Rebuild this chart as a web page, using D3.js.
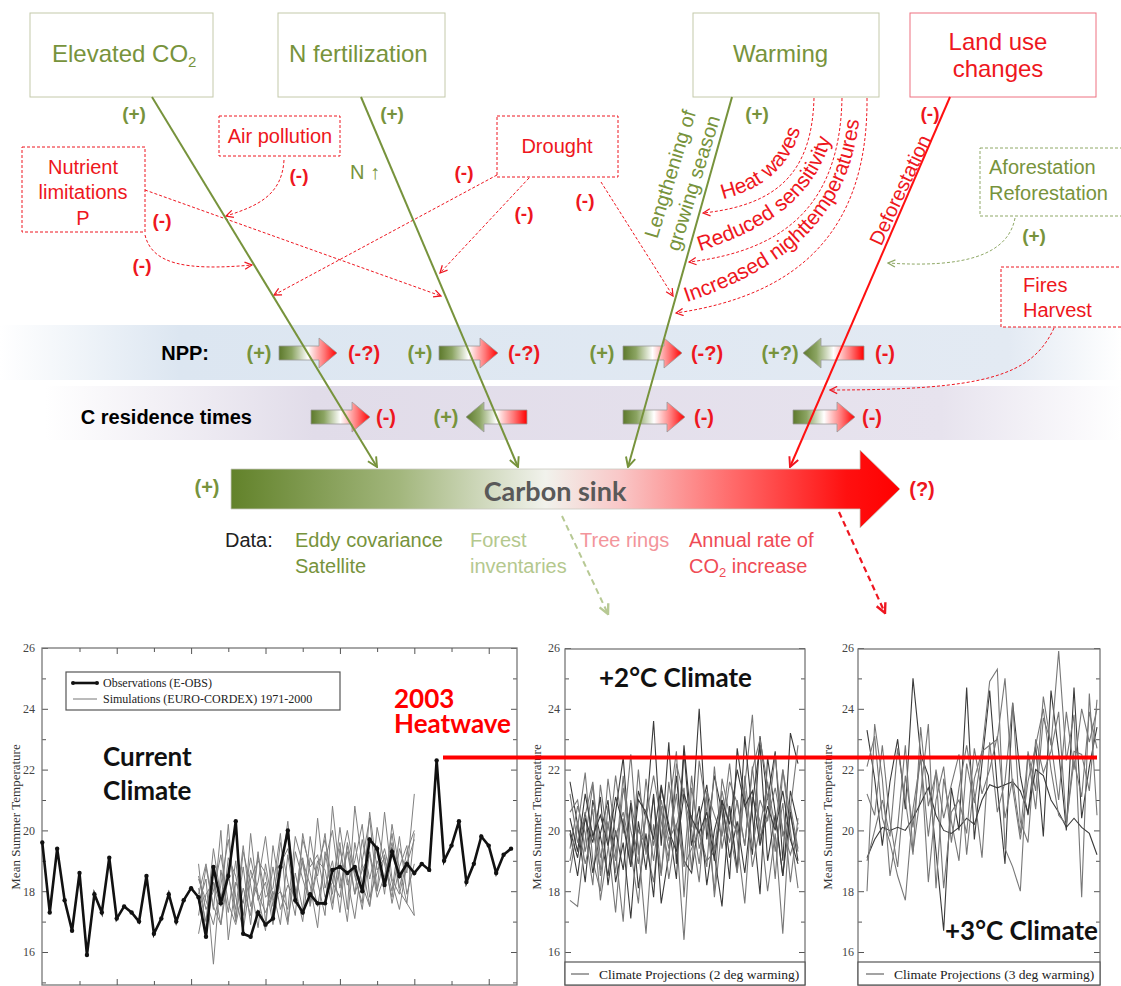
<!DOCTYPE html>
<html>
<head>
<meta charset="utf-8">
<script src="https://cdn.jsdelivr.net/npm/d3@7"></script>
<style>
  body { margin: 0; background: #fff; }
  svg { display: block; }
</style>
</head>
<body>
<svg id="fig" width="1121" height="986" font-family="'Liberation Sans', Arial, sans-serif"></svg>
<script>
// ---------- chart values ----------
const obsStartYear = 1950;
const obsTemp = [19.6,17.3,19.4,17.7,16.7,18.6,15.9,17.9,17.3,19.1,
  17.1,17.5,17.3,17.0,18.5,16.6,17.1,17.9,17.0,17.7,
  18.1,17.8,16.5,18.8,17.6,18.5,20.3,16.6,16.5,17.3,
  16.9,17.1,18.8,20.0,17.7,17.3,17.9,17.6,17.6,18.7,
  18.8,18.6,18.8,18.0,19.7,19.4,18.2,19.3,18.5,18.9,
  18.6,18.9,18.7,22.3,19.0,19.5,20.3,18.3,18.9,19.8,
  19.5,18.6,19.2,19.4];

const simStartYear = 1971;
const simTemp = [
  [18.9,16.6,18.3,17.5,20.2,17.1,18.8,16.9,19.2,17.8,18.1,19.9,17.0,18.6,17.4,19.8,18.3,17.2,20.8,18.5,17.0,19.6,18.2,17.5,20.1,18.9,17.8,19.4,18.6,21.2],
  [17.6,18.4,15.6,18.7,17.3,19.0,16.8,19.9,17.7,18.3,16.9,18.5,20.3,17.6,19.0,18.2,16.8,19.3,17.9,20.1,18.4,17.1,19.0,20.4,18.0,19.2,17.6,18.8,19.5,17.2],
  [16.6,17.9,18.3,16.9,19.1,18.5,17.2,18.7,17.8,16.7,19.5,18.0,17.4,19.8,18.9,17.6,20.4,18.1,19.0,17.3,19.6,18.5,17.6,20.6,18.7,19.1,18.0,19.8,17.9,18.9],
  [18.1,17.0,19.4,17.8,18.6,17.0,19.3,18.2,16.8,18.9,17.5,19.6,18.3,17.2,19.9,18.6,17.5,19.0,20.0,18.1,19.3,17.9,19.7,18.4,19.5,17.9,20.2,18.7,17.6,19.9],
  [17.2,18.8,17.4,20.0,16.4,18.3,17.6,19.1,17.9,17.3,18.0,16.9,19.2,17.6,19.7,18.8,19.2,17.8,18.3,19.6,17.4,20.8,18.9,17.5,19.0,18.3,19.9,18.1,19.3,20.0],
  [18.4,17.7,16.9,18.2,19.7,17.8,16.7,18.4,19.0,18.6,17.2,18.9,19.4,18.1,17.0,19.1,18.5,19.9,17.6,18.8,20.0,18.6,17.4,19.3,18.0,20.6,18.4,17.9,19.0,18.5],
  [17.9,18.9,17.5,16.9,18.5,17.4,19.5,17.5,18.3,19.8,17.7,18.0,16.9,19.3,18.4,17.6,19.0,18.7,17.4,19.4,18.2,19.0,20.2,17.8,18.6,19.4,18.3,17.4,18.9,19.7],
  [18.5,17.4,18.0,19.2,17.6,16.9,18.1,17.2,19.3,17.0,18.8,17.4,18.2,17.8,19.1,17.5,18.8,19.7,18.3,17.8,19.5,17.9,18.7,19.2,17.8,18.5,19.6,18.0,17.6,17.2]
];

const plus2Temp = [
  [21.6,20.2,18.3,21.0,19.8,18.5,20.6,22.4,19.1,21.3,20.4,23.6,19.5,22.9,18.9,22.8,20.1,24.0,19.7,21.8,20.6,18.4,22.7,20.9,19.2,23.1,21.0,22.6,19.0,23.2,22.2],
  [19.4,20.8,19.9,18.2,21.5,19.6,17.3,20.4,18.8,22.0,19.2,21.1,18.6,20.7,22.6,17.8,21.4,19.9,18.8,22.1,19.4,20.8,18.6,21.5,23.8,19.6,21.2,18.4,22.0,20.0,18.1],
  [18.6,20.1,21.9,19.0,18.0,20.8,19.3,17.0,21.0,19.5,16.6,20.2,18.5,21.6,19.8,16.4,20.5,18.9,21.2,17.8,20.1,22.2,19.7,17.6,21.1,20.3,18.0,19.9,16.6,20.8,19.4],
  [20.0,19.1,20.6,18.6,19.9,21.0,18.3,19.6,17.1,20.3,18.7,21.2,17.6,19.2,21.8,19.0,18.6,20.4,21.5,19.2,17.5,20.8,18.7,23.1,20.5,17.9,22.4,20.6,18.5,21.3,20.2],
  [17.7,17.5,19.7,21.5,18.5,20.2,19.0,21.8,18.9,20.0,19.5,18.3,20.7,19.4,21.2,18.8,19.4,20.0,19.0,19.3,20.8,19.6,21.0,19.5,22.1,19.8,20.4,21.4,20.0,19.2,20.1],
  [20.6,21.0,19.3,20.7,17.7,19.4,21.8,19.9,22.5,19.2,20.4,21.8,20.3,19.0,22.2,21.1,20.0,18.3,21.3,20.5,19.8,21.6,20.9,19.5,22.0,23.0,21.5,20.1,22.0,20.5,19.3],
  [19.9,18.5,20.4,19.6,21.1,18.2,20.0,18.7,20.9,18.1,19.9,17.8,21.4,20.2,18.4,22.6,19.5,20.8,18.2,20.0,21.0,19.1,20.3,18.6,20.9,22.8,19.0,20.5,18.5,20.6,19.0],
  [21.2,19.6,20.5,21.6,19.1,20.3,18.6,21.4,20.0,18.9,21.7,19.5,20.8,18.4,20.1,21.4,18.7,22.3,20.6,19.4,21.3,20.0,18.6,21.8,19.4,21.0,20.3,22.5,19.8,20.7,22.8],
  [19.0,20.3,18.9,20.0,18.7,21.7,19.8,20.6,19.3,17.6,20.7,19.0,21.0,19.7,20.2,18.9,21.8,19.4,20.4,18.0,21.7,20.5,19.9,21.3,18.8,20.1,21.6,19.3,20.9,18.3,20.4],
  [20.4,19.3,21.2,19.8,20.5,19.5,21.1,20.2,18.8,21.0,20.6,19.7,21.5,20.0,19.3,21.2,20.4,19.9,20.6,19.0,21.0,20.2,22.0,20.8,21.3,19.5,20.8,20.0,21.3,19.7,18.9]
];

const plus3Temp = [
  [23.3,21.7,19.5,21.6,23.0,20.7,25.0,22.5,21.8,19.3,16.7,21.4,20.0,24.7,19.7,22.2,24.6,21.4,18.9,24.2,21.8,20.5,22.8,19.8,24.6,22.6,20.0,24.7,20.4,22.1,23.4],
  [18.0,23.5,21.7,18.5,20.1,22.8,19.3,21.2,23.5,18.1,21.7,20.3,19.0,22.2,20.9,22.6,24.9,25.3,19.4,18.8,18.0,22.6,21.3,24.4,22.8,25.9,22.3,23.8,17.8,24.5,20.5],
  [21.2,20.5,22.8,20.3,18.8,21.8,20.1,22.5,18.3,21.0,22.1,19.6,21.4,22.8,21.2,19.1,22.9,20.6,21.6,24.2,20.3,19.6,23.0,21.9,22.6,23.9,20.2,22.3,21.1,23.9,22.7],
  [19.1,19.7,20.1,20.0,20.1,20.0,20.4,20.9,21.4,20.5,20.0,19.9,20.1,20.4,20.2,21.0,21.5,21.4,21.5,21.6,21.3,20.6,22.0,21.8,21.0,20.6,20.1,20.4,20.1,19.9,19.2],
  [22.1,23.1,20.4,19.6,18.5,17.7,20.7,22.4,19.8,22.0,20.4,21.5,22.5,19.2,21.7,22.6,22.8,23.0,25.0,21.4,19.7,21.6,22.8,24.0,22.0,20.5,20.2,22.6,22.5,21.3,24.3],
  [19.0,20.0,21.0,19.8,22.7,21.0,19.2,23.4,20.8,21.9,18.1,20.6,21.0,19.9,22.7,21.2,22.0,23.1,20.4,21.7,19.9,22.5,20.7,23.7,22.9,21.0,23.9,22.0,24.0,22.9,24.0]
];

const yTicksMajor = [16, 18, 20, 22, 24, 26];
const yTicksMinor = [15, 17, 19, 21, 23, 25];
const xTicksMajor = [1960, 1970, 1980, 1990, 2000, 2010];
const xTicksMinor = [1955, 1965, 1975, 1985, 1995, 2005];
const heatwaveLevel = 22.4;

// ---------- diagram text ----------
const nppLeft  = ["(+)", "(+)", "(+)", "(+?)"];
const nppRight = ["(-?)", "(-?)", "(-?)", "(-)"];
const resLeft  = ["", "(+)", "", ""];
const resRight = ["(-)", "", "(-)", "(-)"];

const GREEN = "#77933c", RED = "#ee1620", BOXLINE = "#c4c9aa";
const SERIF = "'Liberation Serif', 'Times New Roman', serif";
const CAL = "Lato, sans-serif";

const svg = d3.select("#fig");
svg.append("rect").attr("width", 1121).attr("height", 986).attr("fill", "#fff");
const defs = svg.append("defs");

function grad(id, stops, attrs) {
  const g = defs.append("linearGradient").attr("id", id);
  Object.entries(attrs || {}).forEach(([k, v]) => g.attr(k, v));
  stops.forEach(s => g.append("stop").attr("offset", s[0]).attr("stop-color", s[1])
    .attr("stop-opacity", s[2] == null ? 1 : s[2]));
}
grad("gNpp", [[0, "#dce6f1", 0], [0.16, "#dce6f1", 1], [0.9, "#e3eaf3", 1], [1, "#e3eaf3", 0]]);
grad("gRes", [[0.04, "#e1dce9", 0], [0.28, "#e1dce9", 1], [0.84, "#e7e3ee", 1], [1, "#e7e3ee", 0]]);
grad("gArrow", [[0, "#5d792c"], [0.22, "#8ba462"], [0.5, "#ffffff"], [0.78, "#ff7878"], [1, "#ff0000"]]);
grad("gSink", [[0, "#62822a"], [0.25, "#a2b67c"], [0.47, "#f1f2ec"], [0.58, "#f9c8c8"],
  [0.75, "#ff6a6a"], [0.92, "#ff1010"], [1, "#ff0000"]],
  {gradientUnits: "userSpaceOnUse", x1: 231, x2: 900, y1: 0, y2: 0});

function marker(id, color, size, sw) {
  defs.append("marker").attr("id", id).attr("viewBox", "0 0 10 10")
    .attr("refX", 9).attr("refY", 5).attr("markerWidth", size).attr("markerHeight", size)
    .attr("markerUnits", "userSpaceOnUse").attr("orient", "auto")
    .append("path").attr("d", "M1,1 L9,5 L1,9").attr("fill", "none")
    .attr("stroke", color).attr("stroke-width", sw);
}
marker("aG", GREEN, 12, 1.6);
marker("aR", RED, 12, 1.6);
marker("aRs", RED, 9, 1.4);
marker("aGs", "#8fa866", 9, 1.4);
marker("aRd", RED, 12, 2);
marker("aGd", "#b7c994", 12, 2);

function label(x, y, txt, opt) {
  opt = opt || {};
  const t = svg.append("text").attr("x", x).attr("y", y)
    .attr("text-anchor", opt.anchor || "middle")
    .attr("dominant-baseline", opt.base || "central")
    .attr("font-size", opt.size || 20)
    .attr("font-weight", opt.bold ? 700 : 400)
    .attr("fill", opt.color || "#000")
    .text(txt);
  if (opt.font) t.attr("font-family", opt.font);
  return t;
}

// ---------- bands ----------
svg.append("rect").attr("x", 0).attr("y", 325).attr("width", 1121).attr("height", 55).attr("fill", "url(#gNpp)");
svg.append("rect").attr("x", 0).attr("y", 386).attr("width", 1121).attr("height", 54).attr("fill", "url(#gRes)");

// ---------- driver boxes ----------
svg.append("rect").attr("x", 30).attr("y", 13).attr("width", 183).attr("height", 84).attr("fill", "#fff").attr("stroke", BOXLINE);
svg.append("rect").attr("x", 278).attr("y", 13).attr("width", 167).attr("height", 84).attr("fill", "#fff").attr("stroke", BOXLINE);
svg.append("rect").attr("x", 693).attr("y", 13).attr("width", 186).attr("height", 84).attr("fill", "#fff").attr("stroke", BOXLINE);
svg.append("rect").attr("x", 910).attr("y", 13).attr("width", 186).attr("height", 84).attr("fill", "#fff").attr("stroke", "#ee7080");

const co2 = svg.append("text").attr("x", 52).attr("y", 62).attr("font-size", 24).attr("fill", GREEN);
co2.append("tspan").text("Elevated CO");
co2.append("tspan").attr("font-size", 15).attr("dy", 5).text("2");
label(289, 62, "N fertilization", {anchor: "start", base: "auto", size: 24, color: GREEN});
label(733, 62, "Warming", {anchor: "start", base: "auto", size: 24, color: GREEN});
label(998, 50, "Land use", {base: "auto", size: 24, color: RED});
label(998, 77, "changes", {base: "auto", size: 24, color: RED});

// ---------- dashed modifier boxes ----------
function dashBox(x, y, w, h, c) {
  svg.append("rect").attr("x", x).attr("y", y).attr("width", w).attr("height", h)
    .attr("fill", "#fff").attr("stroke", c).attr("stroke-width", 1).attr("stroke-dasharray", "3,2");
}
dashBox(219, 116, 121, 40, RED);
dashBox(22, 147, 123, 85, RED);
dashBox(497, 116, 121, 61, RED);
dashBox(980, 148, 150, 68, "#8fa866");
dashBox(1001, 267, 130, 60, RED);

label(280, 136, "Air pollution", {color: RED});
label(83, 167, "Nutrient", {color: RED});
label(83, 192, "limitations", {color: RED});
label(83, 218, "P", {color: RED});
label(557, 146, "Drought", {color: RED});
label(989, 167, "Aforestation", {anchor: "start", color: GREEN});
label(989, 193, "Reforestation", {anchor: "start", color: GREEN});
label(1023, 285, "Fires", {anchor: "start", color: RED});
label(1023, 310, "Harvest", {anchor: "start", color: RED});
label(365, 172, "N \u2191", {color: GREEN});

// ---------- main driver lines ----------
const drivers = [
  {x1: 152, y1: 97, x2: 377, y2: 467, c: GREEN, m: "aG"},
  {x1: 361, y1: 97, x2: 518, y2: 467, c: GREEN, m: "aG"},
  {x1: 732, y1: 97, x2: 628, y2: 467, c: GREEN, m: "aG"},
  {x1: 950, y1: 97, x2: 790, y2: 467, c: "#ff1010", m: "aR"}
];

// ---------- dashed modifier arrows ----------
const redArrows = [
  "M284,160 C282,195 258,206 226,216",
  "M145,190 L441,296",
  "M145,235 C152,264 185,271 252,265",
  "M497,175 L274,295",
  "M529,178 L440,273",
  "M601,182 L673,296",
  "M814,98 C812,170 780,205 703,213",
  "M842,98 C840,200 790,250 689,262",
  "M867,98 C868,230 800,295 676,313",
  "M1054,328 C1032,376 985,390 830,390"
];
redArrows.forEach(d => svg.append("path").attr("d", d).attr("fill", "none")
  .attr("stroke", RED).attr("stroke-width", 1).attr("stroke-dasharray", "3,2")
  .attr("marker-end", "url(#aRs)"));
svg.append("path").attr("d", "M1015,218 C1008,256 962,268 888,263").attr("fill", "none")
  .attr("stroke", "#8fa866").attr("stroke-width", 1).attr("stroke-dasharray", "3,2")
  .attr("marker-end", "url(#aGs)");

// curved labels on the warming modifiers
const curveText = [
  {id: "tHeat", d: "M714,201 C768,190 800,162 806,100", t: "Heat  waves", off: 9},
  {id: "tRed", d: "M694,253 C775,228 832,190 837,100", t: "Reduced    sensitivity", off: 6},
  {id: "tInc", d: "M682,304 C790,268 857,214 861,96", t: "Increased nighttemperatures", off: 5}
];
curveText.forEach(c => {
  defs.append("path").attr("id", c.id).attr("d", c.d);
  svg.append("text").attr("font-size", 21).attr("fill", RED)
    .append("textPath").attr("href", "#" + c.id).attr("startOffset", c.off).text(c.t);
});

// rotated labels along lines
label(0, 0, "Lengthening of", {color: GREEN, size: 20}).attr("transform", "translate(670,174) rotate(-73)");
label(0, 0, "growing season", {color: GREEN, size: 20}).attr("transform", "translate(693,183) rotate(-73)");
label(0, 0, "Deforestation", {color: RED, size: 20}).attr("transform", "translate(900,190) rotate(-65)");

// sign labels near the modifiers
[[134, 113, "(+)", GREEN], [392, 113, "(+)", GREEN], [757, 113, "(+)", GREEN], [930, 113, "(-)", RED],
 [299, 175, "(-)", RED], [162, 220, "(-)", RED], [142, 265, "(-)", RED], [464, 172, "(-)", RED],
 [524, 213, "(-)", RED], [585, 200, "(-)", RED], [1034, 235, "(+)", GREEN]]
  .forEach(s => label(s[0], s[1], s[2], {bold: true, color: s[3], size: 19}));

// ---------- NPP and residence time rows ----------
label(209, 353, "NPP:", {anchor: "end", bold: true, size: 20});
label(252, 417, "C residence times", {anchor: "end", bold: true, size: 20});

function blockArrow(x0, x1, yc, dir) {
  const bh = 7, hh = 15, hl = 18;
  const pts = dir > 0
    ? [[x0, yc - bh], [x1 - hl, yc - bh], [x1 - hl, yc - hh], [x1, yc], [x1 - hl, yc + hh], [x1 - hl, yc + bh], [x0, yc + bh]]
    : [[x1, yc - bh], [x0 + hl, yc - bh], [x0 + hl, yc - hh], [x0, yc], [x0 + hl, yc + hh], [x0 + hl, yc + bh], [x1, yc + bh]];
  svg.append("polygon").attr("points", pts.map(p => p.join(",")).join(" "))
    .attr("fill", "url(#gArrow)").attr("stroke", "#9a9a9a").attr("stroke-width", 0.8);
}
const nppArrows = [[279, 337, 1], [439, 498, 1], [623, 682, 1], [803, 864, -1]];
const nppLeftX = [259, 420, 602, 780], nppRightX = [364, 524, 707, 885];
nppArrows.forEach((a, i) => {
  blockArrow(a[0], a[1], 353, a[2]);
  label(nppLeftX[i], 353, nppLeft[i], {bold: true, color: GREEN, size: 20});
  label(nppRightX[i], 353, nppRight[i], {bold: true, color: RED, size: 20});
});
const resArrows = [[311, 370, 1], [466, 527, -1], [623, 685, 1], [793, 855, 1]];
const resLeftX = [0, 446, 0, 0], resRightX = [386, 0, 704, 872];
resArrows.forEach((a, i) => {
  blockArrow(a[0], a[1], 417, a[2]);
  if (resLeft[i]) label(resLeftX[i], 417, resLeft[i], {bold: true, color: GREEN, size: 20});
  if (resRight[i]) label(resRightX[i], 417, resRight[i], {bold: true, color: RED, size: 20});
});

// driver lines drawn over the rows
drivers.forEach(l => svg.append("line").attr("x1", l.x1).attr("y1", l.y1).attr("x2", l.x2).attr("y2", l.y2)
  .attr("stroke", l.c).attr("stroke-width", 2).attr("marker-end", "url(#" + l.m + ")"));

// ---------- carbon sink arrow ----------
svg.append("polygon").attr("points", "231,469 860,469 860,450 900,489 860,528 860,509 231,509")
  .attr("fill", "url(#gSink)").attr("stroke", "#c9c9c0").attr("stroke-width", 0.8);
label(555, 490, "Carbon sink", {bold: true, size: 27, color: "#595959", font: CAL});
label(207, 487, "(+)", {bold: true, color: GREEN, size: 20});
label(922, 489, "(?)", {bold: true, color: RED, size: 20});

// data sources
label(225, 547, "Data:", {anchor: "start", base: "auto", color: "#222"});
label(295, 547, "Eddy covariance", {anchor: "start", base: "auto", color: GREEN});
label(295, 573, "Satellite", {anchor: "start", base: "auto", color: GREEN});
label(470, 547, "Forest", {anchor: "start", base: "auto", color: "#b4c88e"});
label(470, 573, "inventaries", {anchor: "start", base: "auto", color: "#b4c88e"});
label(580, 547, "Tree rings", {anchor: "start", base: "auto", color: "#f3959b"});
label(689, 547, "Annual rate of", {anchor: "start", base: "auto", color: "#ef4b55"});
const co2i = svg.append("text").attr("x", 689).attr("y", 573).attr("font-size", 20).attr("fill", "#ef4b55");
co2i.append("tspan").text("CO");
co2i.append("tspan").attr("font-size", 13).attr("dy", 4).text("2");
co2i.append("tspan").attr("dy", -4).text(" increase");

svg.append("path").attr("d", "M562,516 L608,614").attr("stroke", "#b7c994").attr("stroke-width", 2)
  .attr("stroke-dasharray", "6,4").attr("fill", "none").attr("marker-end", "url(#aGd)");
svg.append("path").attr("d", "M839,512 L885,613").attr("stroke", RED).attr("stroke-width", 2.2)
  .attr("stroke-dasharray", "6,4").attr("fill", "none").attr("marker-end", "url(#aRd)");

// ---------- temperature panels ----------
const y = d3.scaleLinear().domain([15, 26]).range([982.4, 648]);
const PB = 985;

function styleAxis(g) {
  g.select(".domain").remove();
  g.attr("font-family", SERIF).attr("font-size", 12);
  g.selectAll("line").attr("stroke", "#555");
  g.selectAll("text").attr("fill", "#444");
}
function yAxes(left, right, top, pad) {
  svg.append("g").attr("transform", `translate(${left},0)`)
    .call(d3.axisLeft(y).tickValues(yTicksMajor).tickSize(-6).tickPadding(pad)).call(styleAxis);
  svg.append("g").attr("transform", `translate(${left},0)`)
    .call(d3.axisLeft(y).tickValues(yTicksMinor).tickSize(-4).tickFormat("")).call(styleAxis);
  svg.append("g").attr("transform", `translate(${right},0)`)
    .call(d3.axisRight(y).tickValues(yTicksMajor).tickSize(-6).tickFormat("")).call(styleAxis);
  svg.append("g").attr("transform", `translate(${right},0)`)
    .call(d3.axisRight(y).tickValues(yTicksMinor).tickSize(-4).tickFormat("")).call(styleAxis);
  svg.append("rect").attr("x", left).attr("y", top).attr("width", right - left).attr("height", PB - top)
    .attr("fill", "none").attr("stroke", "#777").attr("stroke-width", 1.3);
}
function yTitle(x) {
  svg.append("text").attr("transform", `translate(${x},817) rotate(-90)`)
    .attr("text-anchor", "middle").attr("dominant-baseline", "central")
    .attr("font-family", SERIF).attr("font-size", 13).attr("fill", "#333")
    .text("Mean Summer Temperature");
}

// left panel: observations and simulations
const xL = d3.scaleLinear().domain([1950, 2013.8]).range([42.3, 517]);
yAxes(42, 517, 648, 7);
yTitle(15);
[[xTicksMajor, -6], [xTicksMinor, -4]].forEach(([tv, ts]) => {
  svg.append("g").attr("transform", "translate(0,648)")
    .call(d3.axisTop(xL).tickValues(tv).tickSize(ts).tickFormat("")).call(styleAxis);
  svg.append("g").attr("transform", `translate(0,${PB})`)
    .call(d3.axisBottom(xL).tickValues(tv).tickSize(ts).tickFormat("")).call(styleAxis);
});
const simLine = d3.line().x((d, i) => xL(simStartYear + i)).y(d => y(d));
svg.append("g").selectAll("path").data(simTemp).join("path")
  .attr("d", simLine).attr("fill", "none").attr("stroke", "#808080").attr("stroke-width", 1);
const obsLine = d3.line().x((d, i) => xL(obsStartYear + i)).y(d => y(d));
svg.append("path").datum(obsTemp).attr("d", obsLine).attr("fill", "none")
  .attr("stroke", "#111").attr("stroke-width", 2.6);
svg.append("g").selectAll("circle").data(obsTemp).join("circle")
  .attr("cx", (d, i) => xL(obsStartYear + i)).attr("cy", d => y(d)).attr("r", 2.2).attr("fill", "#111");

// legend
svg.append("rect").attr("x", 66).attr("y", 672).attr("width", 274).attr("height", 38)
  .attr("fill", "#fff").attr("stroke", "#555").attr("stroke-width", 1.2);
svg.append("line").attr("x1", 73).attr("x2", 97).attr("y1", 683).attr("y2", 683).attr("stroke", "#111").attr("stroke-width", 2.6);
svg.append("circle").attr("cx", 73).attr("cy", 683).attr("r", 2).attr("fill", "#111");
svg.append("circle").attr("cx", 97).attr("cy", 683).attr("r", 2).attr("fill", "#111");
svg.append("line").attr("x1", 73).attr("x2", 97).attr("y1", 699).attr("y2", 699).attr("stroke", "#777").attr("stroke-width", 1);
label(103, 683, "Observations (E-OBS)", {anchor: "start", size: 12, font: SERIF, color: "#222"});
label(103, 699, "Simulations (EURO-CORDEX) 1971-2000", {anchor: "start", size: 12, font: SERIF, color: "#222"});

label(103, 766, "Current", {anchor: "start", base: "auto", bold: true, size: 26, font: CAL, color: "#111"});
label(103, 800, "Climate", {anchor: "start", base: "auto", bold: true, size: 26, font: CAL, color: "#111"});

// projection panels
function projPanel(left, right, x0, x1, series, pad, titleX, legendTxt, sampleX) {
  yAxes(left, right, 649, pad);
  const xs = d3.scaleLinear().domain([0, series[0].length - 1]).range([x0, x1]);
  const ln = d3.line().x((d, i) => xs(i)).y(d => y(d));
  svg.append("g").selectAll("path").data(series).join("path")
    .attr("d", ln).attr("fill", "none")
    .attr("stroke", (d, i) => i % 3 === 0 ? "#3a3a3a" : "#777").attr("stroke-width", 1.1);
  yTitle(titleX);
  svg.append("rect").attr("x", left).attr("y", 962).attr("width", right - left).attr("height", PB - 962)
    .attr("fill", "#fff").attr("stroke", "#555").attr("stroke-width", 1.2);
  svg.append("line").attr("x1", sampleX).attr("x2", sampleX + 18).attr("y1", 974).attr("y2", 974)
    .attr("stroke", "#666").attr("stroke-width", 1.2);
  label(sampleX + 28, 974, legendTxt, {anchor: "start", size: 13.5, font: SERIF, color: "#222"});
}
projPanel(565, 805, 570, 798, plus2Temp, 5, 536, "Climate Projections (2 deg warming)", 571);
projPanel(858, 1100, 867, 1097, plus3Temp, 4, 827, "Climate Projections (3 deg warming)", 866);

label(599, 687, "+2\u00b0C Climate", {anchor: "start", base: "auto", bold: true, size: 26, font: CAL, color: "#111"});
label(945, 940, "+3\u00b0C Climate", {anchor: "start", base: "auto", bold: true, size: 26, font: CAL, color: "#111"});

// 2003 heatwave level
svg.append("line").attr("x1", 443).attr("x2", 1097).attr("y1", y(heatwaveLevel)).attr("y2", y(heatwaveLevel))
  .attr("stroke", "#ff0000").attr("stroke-width", 4);
label(394, 708, "2003", {anchor: "start", base: "auto", bold: true, size: 26, font: CAL, color: "#ff0000"});
label(394, 733, "Heatwave", {anchor: "start", base: "auto", bold: true, size: 26, font: CAL, color: "#ff0000"});
</script>
</body>
</html>
